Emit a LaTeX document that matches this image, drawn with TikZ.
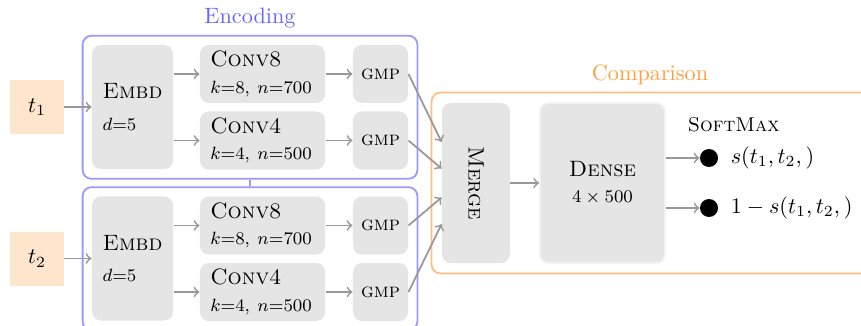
\documentclass[tikz,border=0pt]{standalone}
\usetikzlibrary{positioning,fit}

\tikzset{
  inp/.style={fill=orange!20, minimum size=24.3pt, inner sep=0pt},
  layer/.style={fill=gray!20, rounded corners=4pt, inner sep=0pt},
  embdbox/.style={layer, minimum width=36.5pt, minimum height=55.8pt, align=left},
  convbox/.style={layer, minimum width=56.3pt, minimum height=26.1pt, text width=47pt, align=left},
  gmpbox/.style={layer, minimum width=24.8pt, minimum height=26.1pt, font=\small},
  conn/.style={->, draw=black!40, line width=0.8pt},
  encframe/.style={draw=blue!40, line width=0.8pt, rounded corners=4pt, inner sep=4pt},
  cmpframe/.style={draw=orange!50, line width=0.8pt, rounded corners=4pt, inner sep=4.5pt},
  enclabel/.style={text=blue!60},
  cmplabel/.style={text=orange!75},
  outdot/.style={circle, fill=black, minimum size=8.1pt, inner sep=0pt},
}

\begin{document}
\begin{tikzpicture}[x=0.45pt,y=-0.45pt]
\useasboundingbox (0,0) rectangle (861,326);

% encoding, one branch per input
\foreach \i/\dy in {1/0,2/151.5}{
  \node[inp] (t\i) at (37,107+\dy) {$t_\i$};
  \node[embdbox] (embd\i) at (132.5,107+\dy) {\textsc{Embd}\\[2pt]\footnotesize$d{=}5$};
  \node[convbox] (conva\i) at (262.5,74+\dy) {\textsc{Conv8}\\[0pt]\footnotesize$k{=}8$, $n{=}700$};
  \node[convbox] (convb\i) at (262.5,140.5+\dy) {\textsc{Conv4}\\[0pt]\footnotesize$k{=}4$, $n{=}500$};
  \node[gmpbox] (gmpa\i) at (380.5,74+\dy) {\textsc{gmp}};
  \node[gmpbox] (gmpb\i) at (380.5,140.5+\dy) {\textsc{gmp}};
  \node[encframe, fit=(embd\i)(gmpb\i)] (enc\i) {};
  \draw[conn] (t\i) -- (embd\i);
  \draw[conn] (embd\i.east |- conva\i) -- (conva\i);
  \draw[conn] (embd\i.east |- convb\i) -- (convb\i);
  \draw[conn] (conva\i) -- (gmpa\i);
  \draw[conn] (convb\i) -- (gmpb\i);
}
\node[enclabel, above=-0.5pt of enc1] {Encoding};
\draw[blue!40, line width=0.8pt] (enc1) -- (enc2);

% comparison
\node[layer, minimum width=30.6pt, minimum height=72pt] (merge) at (476,183) {\rotatebox{-90}{\textsc{Merge}}};
\node[layer, draw=gray!10, line width=0.8pt, minimum width=56.3pt, minimum height=72pt, align=center] (dense) at (602.5,183) {\textsc{Dense}\\[0pt]\footnotesize$4\times500$};
\coordinate (cmpend) at (900,183);
\node[cmpframe, fit=(merge)(cmpend)] (cmp) {};
\node[cmplabel] at (650,75) {Comparison};

\draw[conn] (gmpa1.east) -- ([yshift=18.5pt]merge.west);
\draw[conn] (gmpb1.east) -- ([yshift=6.5pt]merge.west);
\draw[conn] (gmpa2.east) -- ([yshift=-6.5pt]merge.west);
\draw[conn] (gmpb2.east) -- ([yshift=-18.5pt]merge.west);
\draw[conn] (merge) -- (dense);

\node[anchor=west, font=\small] (smax) at (680,125) {\textsc{SoftMax}};
\node[outdot] (dot1) at (709,158) {};
\node[outdot] (dot2) at (709,208) {};
\node[right=2pt of dot1] (out1) {$s(t_1,t_2,)$};
\node[right=2pt of dot2] (out2) {$1-s(t_1,t_2,)$};
\draw[conn] (dense.east |- dot1) -- (dot1);
\draw[conn] (dense.east |- dot2) -- (dot2);
\end{tikzpicture}
\end{document}
